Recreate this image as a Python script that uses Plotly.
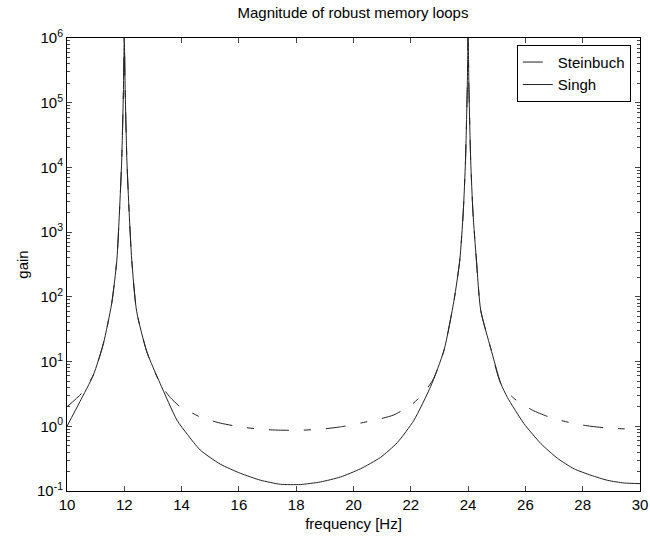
import plotly.graph_objects as go

# Singh (solid)
singh_f = [10.0, 10.45, 10.92, 11.27, 11.56, 11.74, 11.83, 11.91, 11.97, 12.0,
           12.03, 12.09, 12.17, 12.26, 12.43, 12.79, 13.25, 13.84, 14.2, 14.65, 15.35,
           16.05, 16.75, 17.45, 18.15, 18.85, 19.55, 20.24, 20.94, 21.53, 22.11,
           22.69, 23.16, 23.51, 23.71, 23.83, 23.91, 23.97, 24.0, 24.03, 24.09,
           24.17, 24.29, 24.44, 24.79, 25.14, 25.37, 25.95, 26.54, 27.12, 27.7,
           28.29, 28.87, 29.45, 30.0]
singh_g = [1.0, 2.4, 6.2, 19, 79, 370, 2000, 1.3e4, 1.6e5, 1.0e6,
           1.6e5, 1.3e4, 2000, 370, 60, 14, 4.6, 1.24, 0.75, 0.43, 0.26,
           0.188, 0.147, 0.127, 0.126, 0.138, 0.165, 0.22, 0.33, 0.56, 1.24,
           4.1, 15, 89, 370, 2000, 1.3e4, 1.6e5, 1.0e6, 1.6e5, 1.3e4,
           2000, 370, 62, 16, 4.6, 2.8, 1.1, 0.54, 0.32, 0.22,
           0.175, 0.146, 0.133, 0.13]

# Steinbuch (dashed)
stein_f = [10.0, 10.5, 10.92, 11.27, 11.56, 11.74, 11.83, 11.91, 11.97, 12.0,
           12.03, 12.09, 12.17, 12.26, 12.43, 12.79, 13.25, 13.6, 13.95, 14.18,
           14.65, 15.35, 16.05, 16.75, 17.45, 18.15, 18.85, 19.55, 20.24, 20.83,
           21.41, 22.05, 22.46, 22.8, 23.16, 23.51, 23.71, 23.83, 23.91, 23.97,
           24.0, 24.03, 24.09, 24.17, 24.29, 24.44, 24.79, 25.14, 25.6, 26.25,
           26.89, 27.7, 28.29, 28.87, 30.0]
stein_g = [2.0, 3.2, 6.2, 19, 79, 370, 2000, 1.3e4, 1.6e5, 1.0e6,
           1.6e5, 1.3e4, 2000, 370, 60, 14, 4.6, 2.8, 2.0, 1.78,
           1.39, 1.12, 0.98, 0.90, 0.87, 0.87, 0.90, 0.98, 1.12, 1.27,
           1.5, 2.2, 3.3, 5.5, 15, 89, 370, 2000, 1.3e4, 1.6e5,
           1.0e6, 1.6e5, 1.3e4, 2000, 370, 62, 16, 4.6, 2.7, 1.77,
           1.36, 1.1, 1.0, 0.94, 0.89]

x_ticks = [10, 12, 14, 16, 18, 20, 22, 24, 26, 28, 30]
y_ticks = [0.1, 1, 10, 100, 1000, 1e4, 1e5, 1e6]
y_ticktext = ["10<sup>-1</sup>", "10<sup>0</sup>", "10<sup>1</sup>", "10<sup>2</sup>",
              "10<sup>3</sup>", "10<sup>4</sup>", "10<sup>5</sup>", "10<sup>6</sup>"]

FONT = "Liberation Sans, Arial, sans-serif"

fig = go.Figure()
fig.add_trace(go.Scatter(x=stein_f, y=stein_g, mode="lines", name="Steinbuch",
                         line=dict(color="#222", width=1, dash="20px,15px,7px,15px",
                                   shape="spline", smoothing=0.6)))
fig.add_trace(go.Scatter(x=singh_f, y=singh_g, mode="lines", name="Singh",
                         line=dict(color="#222", width=1, shape="spline", smoothing=0.6)))

fig.update_layout(
    width=650, height=542,
    margin=dict(l=67, r=10, t=38, b=51, autoexpand=False),
    paper_bgcolor="white", plot_bgcolor="white",
    font=dict(family=FONT, size=15, color="black"),
    title=dict(text="Magnitude of robust memory loops", x=353 / 650,
               xanchor="center", y=1 - 13 / 542, yanchor="middle",
               font=dict(size=15)),
    showlegend=True,
    legend=dict(x=0.984, y=0.985, xanchor="right", yanchor="top",
                bgcolor="white", bordercolor="black", borderwidth=1,
                font=dict(size=15), itemwidth=30, tracegroupgap=0),
    xaxis=dict(range=[10, 30], tickvals=x_ticks, ticks="inside", ticklen=5,
               showline=True, linecolor="black", linewidth=1, mirror="ticks",
               showgrid=False, zeroline=False, automargin=False,
               title=dict(text="frequency [Hz]", standoff=6, font=dict(size=15))),
    yaxis=dict(type="log", range=[-1, 6], tickvals=y_ticks, ticktext=y_ticktext,
               ticks="inside", ticklen=5, showline=True, linecolor="black",
               linewidth=1, mirror="ticks", showgrid=False, zeroline=False,
               automargin=False,
               minor=dict(ticks="inside", ticklen=3, showgrid=False,
                          tickvals=[k * 10 ** e for e in range(-1, 6) for k in range(2, 10)]),
               title=dict(text="gain", standoff=4, font=dict(size=15))),
)

fig.write_html("out.html")
